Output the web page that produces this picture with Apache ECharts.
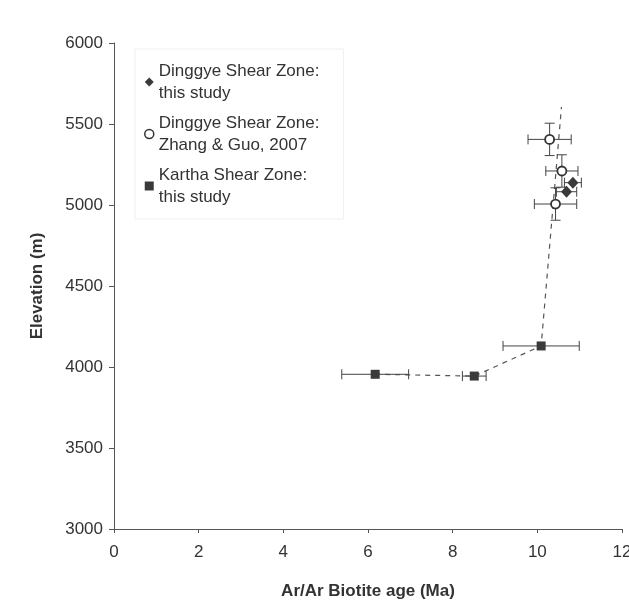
<!DOCTYPE html>
<html>
<head>
<meta charset="utf-8">
<script src="https://cdn.jsdelivr.net/npm/echarts@6/dist/echarts.min.js"></script>
<style>
  html, body { margin: 0; padding: 0; background: #fff; }
  #chart { width: 629px; height: 612px; }
</style>
</head>
<body>
<div id="chart"></div>
<script>
// 数据: [age (Ma), elevation (m), age error, elevation error]
var dinggyeThis = [
    [10.84, 5138, 0.2, 0],
    [10.69, 5082, 0.24, 0]
];
var dinggyeZhang = [
    [10.29, 5405, 0.51, 100],
    [10.58, 5210, 0.38, 100],
    [10.43, 5006, 0.5, 100]
];
var kartha = [
    [6.17, 3955, 0.79, 0],
    [8.51, 3944, 0.28, 0],
    [10.09, 4130, 0.9, 0]
];
// dashed trend line
var trend = [[6.17, 3955], [8.51, 3944], [10.09, 4130], [10.57, 5605]];

var xTicks = [0, 12, 2];      // min, max, interval
var yTicks = [3000, 6000, 500];

var names = ['Dinggye Shear Zone:\nthis study', 'Dinggye Shear Zone:\nZhang & Guo, 2007', 'Kartha Shear Zone:\nthis study'];

var ink = '#333';
var font = '"Liberation Sans", Arial, sans-serif';

// 误差线
function errorBars(data) {
    return {
        type: 'custom',
        silent: true,
        z: 1,
        data: data,
        renderItem: function (params, api) {
            var x = api.value(0), y = api.value(1), ex = api.value(2), ey = api.value(3);
            var c = api.coord([x, y]);
            var cap = 5;
            var kids = [];
            var st = { stroke: '#444', lineWidth: 1 };
            if (ex > 0) {
                var l = api.coord([x - ex, y]), r = api.coord([x + ex, y]);
                kids.push({ type: 'line', shape: { x1: l[0], y1: c[1], x2: r[0], y2: c[1] }, style: st });
                kids.push({ type: 'line', shape: { x1: l[0], y1: c[1] - cap, x2: l[0], y2: c[1] + cap }, style: st });
                kids.push({ type: 'line', shape: { x1: r[0], y1: c[1] - cap, x2: r[0], y2: c[1] + cap }, style: st });
            }
            if (ey > 0) {
                var t = api.coord([x, y + ey]), b = api.coord([x, y - ey]);
                kids.push({ type: 'line', shape: { x1: c[0], y1: t[1], x2: c[0], y2: b[1] }, style: st });
                kids.push({ type: 'line', shape: { x1: c[0] - cap, y1: t[1], x2: c[0] + cap, y2: t[1] }, style: st });
                kids.push({ type: 'line', shape: { x1: c[0] - cap, y1: b[1], x2: c[0] + cap, y2: b[1] }, style: st });
            }
            return { type: 'group', children: kids };
        }
    };
}

function initEcharts() {
    var myChart = echarts.init(document.getElementById('chart'), null, { renderer: 'canvas' });

    var option = {
        backgroundColor: '#fff',
        animation: false,
        textStyle: { fontFamily: font },
        grid: { left: 114, right: 7, top: 43, bottom: 83, outerBoundsMode: 'none', containLabel: false },
        legend: {
            orient: 'vertical',
            left: 135,
            top: 49,
            itemWidth: 9,
            itemHeight: 9,
            itemGap: -14,
            padding: [0, 24, 0, 9],
            borderColor: '#efefef',
            borderWidth: 1,
            textStyle: {
                fontSize: 17,
                color: ink,
                lineHeight: 22,
                padding: [22, 0, 0, 0],
                fontFamily: font
            },
            data: [
                { name: names[0], icon: 'diamond', itemStyle: { color: '#3a3a3a' } },
                { name: names[1], icon: 'circle', itemStyle: { color: '#fff', borderColor: '#333', borderWidth: 1.5 } },
                { name: names[2], icon: 'rect', itemStyle: { color: '#3a3a3a' } }
            ]
        },
        xAxis: {
            type: 'value',
            min: xTicks[0],
            max: xTicks[1],
            interval: xTicks[2],
            name: 'Ar/Ar Biotite age (Ma)',
            nameLocation: 'middle',
            nameGap: 54,
            nameTextStyle: { fontSize: 17, fontWeight: 'bold', color: ink, fontFamily: font },
            axisLine: { lineStyle: { color: '#555', width: 1 } },
            axisTick: { show: true, length: 4, lineStyle: { color: '#555' } },
            axisLabel: { fontSize: 17, color: ink, margin: 15, fontFamily: font },
            splitLine: { show: false }
        },
        yAxis: {
            type: 'value',
            min: yTicks[0],
            max: yTicks[1],
            interval: yTicks[2],
            name: 'Elevation (m)',
            nameLocation: 'middle',
            nameGap: 68,
            nameTextStyle: { fontSize: 17, fontWeight: 'bold', color: ink, fontFamily: font },
            axisLine: { show: true, lineStyle: { color: '#555', width: 1 } },
            axisTick: { show: true, length: 5, lineStyle: { color: '#555' } },
            axisLabel: {
                fontSize: 17, color: ink, margin: 11, fontFamily: font,
                formatter: function (v) { return String(v); }
            },
            splitLine: { show: false }
        },
        series: [
            {
                type: 'line',
                data: trend,
                symbol: 'none',
                silent: true,
                z: 0,
                lineStyle: { color: '#555', width: 1.2, type: [5, 5] }
            },
            errorBars(dinggyeThis),
            errorBars(dinggyeZhang),
            errorBars(kartha),
            {
                name: names[0],
                type: 'scatter',
                data: dinggyeThis,
                symbol: 'diamond',
                symbolSize: [11, 12],
                z: 3,
                itemStyle: { color: '#3a3a3a', opacity: 1 }
            },
            {
                name: names[1],
                type: 'scatter',
                data: dinggyeZhang,
                symbol: 'circle',
                symbolSize: 9,
                z: 3,
                itemStyle: { color: '#fff', borderColor: '#333', borderWidth: 1.8, opacity: 1 }
            },
            {
                name: names[2],
                type: 'scatter',
                data: kartha,
                symbol: 'rect',
                symbolSize: 9,
                z: 3,
                itemStyle: { color: '#3a3a3a', opacity: 1 }
            }
        ]
    };

    myChart.setOption(option);
    resize(myChart);
}

// 响应式
function resize(echart) {
    window.onresize = function () {
        echart.resize();
    };
}

initEcharts();
</script>
</body>
</html>
